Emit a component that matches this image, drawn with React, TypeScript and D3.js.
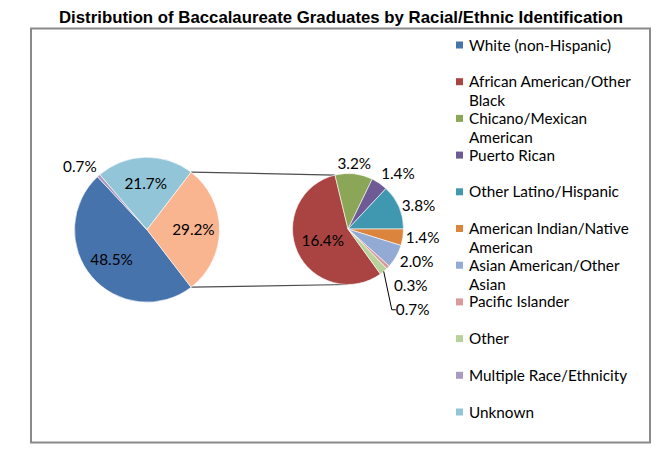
import React from 'react';
import * as d3 from 'd3';

const title = 'Distribution of Baccalaureate Graduates by Racial/Ethnic Identification';
const categories = [
  'White (non-Hispanic)',
  'African American/Other Black',
  'Chicano/Mexican American',
  'Puerto Rican',
  'Other Latino/Hispanic',
  'American Indian/Native American',
  'Asian American/Other Asian',
  'Pacific Islander',
  'Other',
  'Multiple Race/Ethnicity',
  'Unknown',
];
const values = [48.5, 16.4, 3.2, 1.4, 3.8, 1.4, 2.0, 0.3, 0.7, 0.7, 21.7];
const sliceColors = [
  '#4673AC', '#A94442', '#8BA656', '#6E5A94', '#3F97B0', '#DB843E',
  '#93AAD5', '#D89A9A', '#B9D19A', '#A99BC0', '#93C5D8',
];
// categories shown in the main pie (the rest go to the secondary pie)
const mainCategories = ['White (non-Hispanic)', 'Multiple Race/Ethnicity', 'Unknown'];
const secondaryCategories = [
  'African American/Other Black',
  'Chicano/Mexican American',
  'Puerto Rican',
  'Other Latino/Hispanic',
  'American Indian/Native American',
  'Asian American/Other Asian',
  'Pacific Islander',
  'Other',
];
const aggregateColor = '#F9B590';

const W = 671;
const H = 458;
const FONT = 'Lato, "Open Sans", sans-serif';
const LABEL_SIZE = 15.3;
const DEG = Math.PI / 180;

let ctx: CanvasRenderingContext2D | null = null;
function measure(text: string, size: number, weight = 'normal', family = FONT) {
  if (!ctx) ctx = document.createElement('canvas').getContext('2d');
  if (!ctx) return text.length * size * 0.5;
  ctx.font = `${weight} ${size}px ${family}`;
  return ctx.measureText(text).width;
}

function wrap(text: string, size: number, maxW: number) {
  const words = text.split(' ');
  const lines: string[] = [];
  let cur = '';
  for (const w of words) {
    const t = cur ? cur + ' ' + w : w;
    if (cur && measure(t, size) > maxW) {
      lines.push(cur);
      cur = w;
    } else cur = t;
  }
  if (cur) lines.push(cur);
  return lines;
}

const pt = (cx: number, cy: number, r: number, a: number): [number, number] => [
  cx + r * Math.sin(a),
  cy - r * Math.cos(a),
];
const clamp01 = (v: number) => Math.max(0, Math.min(1, v));

type Lbl = { text: string; x: number; y: number; w: number; leader?: [number, number][] };

function makeLabels(
  arcs: d3.PieArcDatum<number>[],
  cx: number,
  cy: number,
  r: number,
  insideRatio: number,
): Lbl[] {
  const fmt = (v: number) => d3.format('.1f')(v) + '%';
  const h = 14;
  const out: Lbl[] = [];
  const outside: (Lbl & { side: number; base: number; arcPt: [number, number] })[] = [];
  arcs.forEach((a) => {
    const text = fmt(a.data);
    const w = measure(text, LABEL_SIZE);
    const mid = (a.startAngle + a.endAngle) / 2;
    const span = a.endAngle - a.startAngle;
    if (span > 60 * DEG) {
      const [x, y] = pt(cx, cy, r * insideRatio, mid);
      out.push({ text, x, y, w });
    } else {
      const s = Math.sin(mid);
      const c = Math.cos(mid);
      const [px, py] = pt(cx, cy, r + 3, mid);
      const fx = clamp01((Math.abs(s) - 0.15) / 0.35) * Math.sign(s);
      const fy = clamp01((Math.abs(c) - 0.45) / 0.3) * Math.sign(c);
      const x = px + (fx * w) / 2;
      const y = py - (fy * h) / 2;
      outside.push({ text, x, y, w, side: s >= 0 ? 1 : -1, base: y, arcPt: pt(cx, cy, r, mid) });
    }
  });
  // simple collision handling, per side, pushing downward
  [1, -1].forEach((side) => {
    const list = outside.filter((o) => o.side === side).sort((a, b) => a.y - b.y);
    const placed: typeof list = [];
    list.forEach((l) => {
      placed.forEach((p) => {
        const overlapX = l.x - l.w / 2 < p.x + p.w / 2 && l.x + l.w / 2 > p.x - p.w / 2;
        if (overlapX && l.y < p.y + 24) {
          l.y += p.y + 24 - l.y;
        }
      });
      const shift = l.y - l.base;
      if (shift > 0) l.x += side * shift * 0.35;
      if (shift > 20) {
        const left = side > 0 ? l.x - l.w / 2 : l.x + l.w / 2;
        l.leader = [l.arcPt, [left - side * 4, l.y], [left, l.y]];
      }
      placed.push(l);
    });
  });
  return out.concat(outside);
}

export default function App() {
  const total = d3.sum(values);
  const valueOf = (name: string) => values[categories.indexOf(name)];
  const colorOf = (name: string) => sliceColors[categories.indexOf(name)];
  const secValues = secondaryCategories.map(valueOf);
  const secSum = d3.sum(secValues);

  // main pie
  const c1 = { x: 147, y: 229.7, r: 72.5 };
  const mainVals = [...mainCategories.map(valueOf), secSum];
  const mainColors = [...mainCategories.map(colorOf), aggregateColor];
  const mainStart = Math.PI / 2 + (secSum / total) * Math.PI;
  const mainArcs = d3
    .pie<number>()
    .sort(null)
    .value((d) => d)
    .startAngle(mainStart)
    .endAngle(mainStart + 2 * Math.PI)(mainVals);

  // secondary pie
  const c2 = { x: 348, y: 229, r: 55.5 };
  const afterIdx = secondaryCategories.indexOf('American Indian/Native American');
  const secStart = Math.PI / 2 + (d3.sum(secValues.slice(afterIdx)) / secSum) * 2 * Math.PI;
  const secArcs = d3
    .pie<number>()
    .sort(null)
    .value((d) => d)
    .startAngle(secStart)
    .endAngle(secStart + 2 * Math.PI)(secValues);

  const arc1 = d3.arc<d3.PieArcDatum<number>>().innerRadius(0).outerRadius(c1.r);
  const arc2 = d3.arc<d3.PieArcDatum<number>>().innerRadius(0).outerRadius(c2.r);

  // connectors
  const agg = mainArcs[mainArcs.length - 1];
  const mTop = pt(c1.x, c1.y, c1.r, agg.startAngle);
  const mBot = pt(c1.x, c1.y, c1.r, agg.endAngle);
  const sTop = pt(c2.x, c2.y, c2.r, secArcs[0].endAngle);
  const sBot = pt(c2.x, c2.y, c2.r, Math.PI);

  const labels1 = makeLabels(mainArcs, c1.x, c1.y, c1.r, 0.64);
  const labels2 = makeLabels(secArcs, c2.x, c2.y, c2.r, 0.5);

  // legend
  const legendX = 456;
  const legendY0 = 45;
  const legendStep = 36.7;
  const legendFont = 15.3;

  return (
    <svg
      width={W}
      height={H}
      style={{ position: 'absolute', left: 0, top: 0, background: '#fff' }}
      fontFamily={FONT}
    >
      <rect x={0} y={0} width={W} height={H} fill="#fff" />
      <text
        x={341}
        y={22.5}
        textAnchor="middle"
        fontFamily='"Liberation Sans", Arial, sans-serif'
        fontWeight="bold"
        fontSize={16.2}
        textLength={564}
        lengthAdjust="spacingAndGlyphs"
        fill="#000"
      >
        {title}
      </text>
      <rect x={31} y={28.5} width={619} height={414} fill="none" stroke="#8a8a8a" strokeWidth={2} />

      {/* connectors */}
      <line x1={mTop[0]} y1={mTop[1]} x2={sTop[0]} y2={sTop[1]} stroke="#4d4d4d" strokeWidth={1.2} />
      <line x1={mBot[0]} y1={mBot[1]} x2={sBot[0]} y2={sBot[1]} stroke="#4d4d4d" strokeWidth={1.2} />

      <g transform={`translate(${c1.x},${c1.y})`}>
        {mainArcs.map((a, i) => (
          <path key={i} d={arc1(a) || ''} fill={mainColors[i]} stroke="#fff" strokeWidth={0.6} />
        ))}
      </g>
      <g transform={`translate(${c2.x},${c2.y})`}>
        {secArcs.map((a, i) => (
          <path key={i} d={arc2(a) || ''} fill={colorOf(secondaryCategories[i])} stroke="#fff" strokeWidth={0.6} />
        ))}
      </g>

      {[...labels1, ...labels2].map((l, i) => (
        <g key={i}>
          {l.leader && (
            <polyline
              points={l.leader.map((p) => p.join(',')).join(' ')}
              fill="none"
              stroke="#000"
              strokeWidth={1}
            />
          )}
          <text x={l.x} y={l.y + 5.5} textAnchor="middle" fontSize={LABEL_SIZE} fill="#000">
            {l.text}
          </text>
        </g>
      ))}

      {categories.map((name, i) => {
        const cy = legendY0 + i * legendStep;
        const lines = wrap(name, legendFont, 172);
        return (
          <g key={name}>
            <rect x={legendX} y={cy - 3.5} width={7} height={7} fill={sliceColors[i]} />
            {lines.map((ln, j) => (
              <text key={j} x={legendX + 13} y={cy + 5.5 + j * 19} fontSize={legendFont} fill="#000">
                {ln}
              </text>
            ))}
          </g>
        );
      })}
    </svg>
  );
}
